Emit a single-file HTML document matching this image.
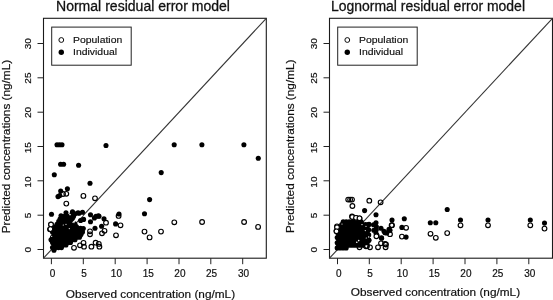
<!DOCTYPE html>
<html><head><meta charset="utf-8"><style>
html,body{margin:0;padding:0;background:#fff;}
svg{display:block;will-change:transform;}
text{font-family:"Liberation Sans", sans-serif;fill:#111;stroke:#111;stroke-width:0.2px;}
</style></head><body>
<svg width="553" height="300" viewBox="0 0 553 300">
<rect x="43.5" y="18.3" width="222.8" height="239.89999999999998" fill="none" stroke="#1a1a1a" stroke-width="1.1"/>
<line x1="43.5" y1="258.2" x2="266.3" y2="18.3" stroke="#333" stroke-width="1.1"/>
<line x1="37.5" y1="249.5" x2="43.5" y2="249.5" stroke="#222" stroke-width="1"/>
<text x="0" y="0" transform="translate(31.2,249.8) rotate(-90) scale(1,0.96)" text-anchor="middle" font-size="10">0</text>
<line x1="37.5" y1="215.2" x2="43.5" y2="215.2" stroke="#222" stroke-width="1"/>
<text x="0" y="0" transform="translate(31.2,215.5) rotate(-90) scale(1,0.96)" text-anchor="middle" font-size="10">5</text>
<line x1="37.5" y1="180.8" x2="43.5" y2="180.8" stroke="#222" stroke-width="1"/>
<text x="0" y="0" transform="translate(31.2,182.1) rotate(-90) scale(1,0.96)" text-anchor="middle" font-size="10">10</text>
<line x1="37.5" y1="146.5" x2="43.5" y2="146.5" stroke="#222" stroke-width="1"/>
<text x="0" y="0" transform="translate(31.2,147.8) rotate(-90) scale(1,0.96)" text-anchor="middle" font-size="10">15</text>
<line x1="37.5" y1="112.2" x2="43.5" y2="112.2" stroke="#222" stroke-width="1"/>
<text x="0" y="0" transform="translate(31.2,112.5) rotate(-90) scale(1,0.96)" text-anchor="middle" font-size="10">20</text>
<line x1="37.5" y1="77.8" x2="43.5" y2="77.8" stroke="#222" stroke-width="1"/>
<text x="0" y="0" transform="translate(31.2,78.1) rotate(-90) scale(1,0.96)" text-anchor="middle" font-size="10">25</text>
<line x1="37.5" y1="43.5" x2="43.5" y2="43.5" stroke="#222" stroke-width="1"/>
<text x="0" y="0" transform="translate(31.2,43.8) rotate(-90) scale(1,0.96)" text-anchor="middle" font-size="10">30</text>
<line x1="51.4" y1="258.2" x2="51.4" y2="264.2" stroke="#222" stroke-width="1"/>
<text x="52.6" y="276.7" text-anchor="middle" font-size="10">0</text>
<line x1="83.3" y1="258.2" x2="83.3" y2="264.2" stroke="#222" stroke-width="1"/>
<text x="84.15" y="276.7" text-anchor="middle" font-size="10">5</text>
<line x1="115.2" y1="258.2" x2="115.2" y2="264.2" stroke="#222" stroke-width="1"/>
<text x="116.4" y="276.7" text-anchor="middle" font-size="10">10</text>
<line x1="147.1" y1="258.2" x2="147.1" y2="264.2" stroke="#222" stroke-width="1"/>
<text x="148.2" y="276.7" text-anchor="middle" font-size="10">15</text>
<line x1="179.0" y1="258.2" x2="179.0" y2="264.2" stroke="#222" stroke-width="1"/>
<text x="179.9" y="276.7" text-anchor="middle" font-size="10">20</text>
<line x1="210.8" y1="258.2" x2="210.8" y2="264.2" stroke="#222" stroke-width="1"/>
<text x="211.6" y="276.7" text-anchor="middle" font-size="10">25</text>
<line x1="242.7" y1="258.2" x2="242.7" y2="264.2" stroke="#222" stroke-width="1"/>
<text x="243.6" y="276.7" text-anchor="middle" font-size="10">30</text>
<text x="56" y="10.8" font-size="14" style="stroke-width:0.28px" textLength="174" lengthAdjust="spacingAndGlyphs">Normal residual error model</text>
<text x="65.8" y="297.8" font-size="11.7" textLength="169.3" lengthAdjust="spacingAndGlyphs">Observed concentration (ng/mL)</text>
<text x="0" y="0" transform="translate(10.3,146.6) rotate(-90)" text-anchor="middle" font-size="11.7" textLength="173.5" lengthAdjust="spacingAndGlyphs">Predicted concentrations (ng/mL)</text>
<rect x="51.7" y="27.1" width="79.5" height="38.1" fill="none" stroke="#222" stroke-width="1"/>
<circle cx="61.300000000000004" cy="40" r="2.4" fill="none" stroke="#000" stroke-width="0.95"/>
<circle cx="61.300000000000004" cy="52.3" r="2.7" fill="#000"/>
<text x="0" y="0" transform="translate(73.1,42.8) scale(1,0.96)" font-size="10.4" style="stroke-width:0.18px">Population</text>
<text x="0" y="0" transform="translate(73.1,55.4) scale(1,0.96)" font-size="10.4" style="stroke-width:0.18px">Individual</text>
<g fill="#000"><circle cx="72.0" cy="213.8" r="2.55"/><circle cx="75.0" cy="213.8" r="2.55"/><circle cx="64.5" cy="216.4" r="2.55"/><circle cx="67.5" cy="216.4" r="2.55"/><circle cx="70.5" cy="216.4" r="2.55"/><circle cx="73.5" cy="216.4" r="2.55"/><circle cx="60.0" cy="219.0" r="2.55"/><circle cx="63.0" cy="219.0" r="2.55"/><circle cx="66.0" cy="219.0" r="2.55"/><circle cx="69.0" cy="219.0" r="2.55"/><circle cx="72.0" cy="219.0" r="2.55"/><circle cx="58.5" cy="221.6" r="2.55"/><circle cx="61.5" cy="221.6" r="2.55"/><circle cx="64.5" cy="221.6" r="2.55"/><circle cx="67.5" cy="221.6" r="2.55"/><circle cx="70.5" cy="221.6" r="2.55"/><circle cx="73.5" cy="221.6" r="2.55"/><circle cx="57.0" cy="224.2" r="2.55"/><circle cx="60.0" cy="224.2" r="2.55"/><circle cx="63.0" cy="224.2" r="2.55"/><circle cx="66.0" cy="224.2" r="2.55"/><circle cx="69.0" cy="224.2" r="2.55"/><circle cx="72.0" cy="224.2" r="2.55"/><circle cx="75.0" cy="224.2" r="2.55"/><circle cx="55.5" cy="226.8" r="2.55"/><circle cx="58.5" cy="226.8" r="2.55"/><circle cx="61.5" cy="226.8" r="2.55"/><circle cx="64.5" cy="226.8" r="2.55"/><circle cx="67.5" cy="226.8" r="2.55"/><circle cx="70.5" cy="226.8" r="2.55"/><circle cx="73.5" cy="226.8" r="2.55"/><circle cx="76.5" cy="226.8" r="2.55"/><circle cx="54.0" cy="229.4" r="2.55"/><circle cx="57.0" cy="229.4" r="2.55"/><circle cx="60.0" cy="229.4" r="2.55"/><circle cx="63.0" cy="229.4" r="2.55"/><circle cx="66.0" cy="229.4" r="2.55"/><circle cx="69.0" cy="229.4" r="2.55"/><circle cx="72.0" cy="229.4" r="2.55"/><circle cx="75.0" cy="229.4" r="2.55"/><circle cx="78.0" cy="229.4" r="2.55"/><circle cx="81.0" cy="229.4" r="2.55"/><circle cx="52.5" cy="232.0" r="2.55"/><circle cx="55.5" cy="232.0" r="2.55"/><circle cx="58.5" cy="232.0" r="2.55"/><circle cx="61.5" cy="232.0" r="2.55"/><circle cx="64.5" cy="232.0" r="2.55"/><circle cx="67.5" cy="232.0" r="2.55"/><circle cx="70.5" cy="232.0" r="2.55"/><circle cx="73.5" cy="232.0" r="2.55"/><circle cx="76.5" cy="232.0" r="2.55"/><circle cx="79.5" cy="232.0" r="2.55"/><circle cx="82.5" cy="232.0" r="2.55"/><circle cx="54.0" cy="234.6" r="2.55"/><circle cx="57.0" cy="234.6" r="2.55"/><circle cx="60.0" cy="234.6" r="2.55"/><circle cx="63.0" cy="234.6" r="2.55"/><circle cx="66.0" cy="234.6" r="2.55"/><circle cx="69.0" cy="234.6" r="2.55"/><circle cx="72.0" cy="234.6" r="2.55"/><circle cx="75.0" cy="234.6" r="2.55"/><circle cx="78.0" cy="234.6" r="2.55"/><circle cx="81.0" cy="234.6" r="2.55"/><circle cx="52.5" cy="237.2" r="2.55"/><circle cx="55.5" cy="237.2" r="2.55"/><circle cx="58.5" cy="237.2" r="2.55"/><circle cx="61.5" cy="237.2" r="2.55"/><circle cx="64.5" cy="237.2" r="2.55"/><circle cx="67.5" cy="237.2" r="2.55"/><circle cx="70.5" cy="237.2" r="2.55"/><circle cx="73.5" cy="237.2" r="2.55"/><circle cx="76.5" cy="237.2" r="2.55"/><circle cx="79.5" cy="237.2" r="2.55"/><circle cx="51" cy="239.8" r="2.55"/><circle cx="54.0" cy="239.8" r="2.55"/><circle cx="57.0" cy="239.8" r="2.55"/><circle cx="60.0" cy="239.8" r="2.55"/><circle cx="63.0" cy="239.8" r="2.55"/><circle cx="66.0" cy="239.8" r="2.55"/><circle cx="69.0" cy="239.8" r="2.55"/><circle cx="72.0" cy="239.8" r="2.55"/><circle cx="75.0" cy="239.8" r="2.55"/><circle cx="52.5" cy="242.4" r="2.55"/><circle cx="55.5" cy="242.4" r="2.55"/><circle cx="58.5" cy="242.4" r="2.55"/><circle cx="61.5" cy="242.4" r="2.55"/><circle cx="64.5" cy="242.4" r="2.55"/><circle cx="67.5" cy="242.4" r="2.55"/><circle cx="70.5" cy="242.4" r="2.55"/><circle cx="54.0" cy="245.0" r="2.55"/><circle cx="57.0" cy="245.0" r="2.55"/><circle cx="60.0" cy="245.0" r="2.55"/><circle cx="63.0" cy="245.0" r="2.55"/><circle cx="66.0" cy="245.0" r="2.55"/><circle cx="52.5" cy="247.6" r="2.55"/><circle cx="55.5" cy="247.6" r="2.55"/><circle cx="58.5" cy="247.6" r="2.55"/><circle cx="61.5" cy="247.6" r="2.55"/><circle cx="54.0" cy="250.2" r="2.55"/></g>
<g fill="#fff"><polygon points="72.3,222.9 76.5,220.9 83,215.60000000000002 82.2,214.8 75.5,219.10000000000002 72.5,221.9"/><circle cx="55.7" cy="221.0" r="0.7"/><circle cx="51.7" cy="236.3" r="0.6"/><circle cx="70" cy="214.60000000000002" r="0.8"/><circle cx="63.3" cy="225.0" r="0.6"/><circle cx="66" cy="224.3" r="0.6"/><circle cx="69.3" cy="228.60000000000002" r="0.6"/><circle cx="74" cy="222.60000000000002" r="0.6"/></g>
<g fill="#000"><circle cx="57" cy="144.7" r="2.55"/><circle cx="59.5" cy="144.7" r="2.55"/><circle cx="62" cy="144.7" r="2.55"/><circle cx="106" cy="145.5" r="2.55"/><circle cx="60.6" cy="164.3" r="2.55"/><circle cx="63.6" cy="164.3" r="2.55"/><circle cx="78.6" cy="165.3" r="2.55"/><circle cx="54.3" cy="174.7" r="2.55"/><circle cx="90" cy="183.3" r="2.55"/><circle cx="60.7" cy="191.0" r="2.55"/><circle cx="67.4" cy="188.7" r="2.55"/><circle cx="58" cy="196.6" r="2.55"/><circle cx="59.7" cy="195.6" r="2.55"/><circle cx="174.2" cy="144.7" r="2.55"/><circle cx="201.9" cy="144.7" r="2.55"/><circle cx="243.9" cy="144.7" r="2.55"/><circle cx="258.3" cy="158.2" r="2.55"/><circle cx="161.2" cy="172.6" r="2.55"/><circle cx="149.6" cy="199.6" r="2.55"/><circle cx="144.5" cy="213.8" r="2.55"/><circle cx="119" cy="214.0" r="2.55"/><circle cx="51.5" cy="214.3" r="2.55"/><circle cx="61" cy="215.8" r="2.55"/><circle cx="66" cy="212.8" r="2.55"/><circle cx="72.5" cy="211.8" r="2.55"/><circle cx="78" cy="212.8" r="2.55"/><circle cx="82.5" cy="212.3" r="2.55"/><circle cx="90.5" cy="214.7" r="2.55"/><circle cx="94.4" cy="217.9" r="2.55"/><circle cx="98.4" cy="215.9" r="2.55"/><circle cx="104" cy="218.7" r="2.55"/><circle cx="90.5" cy="221.8" r="2.55"/><circle cx="95" cy="228.3" r="2.55"/><circle cx="101.6" cy="226.3" r="2.55"/><circle cx="115.6" cy="223.9" r="2.55"/><circle cx="83.6" cy="219.4" r="2.55"/><circle cx="80.6" cy="220.5" r="2.55"/><circle cx="96" cy="216.3" r="2.55"/><circle cx="99" cy="216.3" r="2.55"/><circle cx="79" cy="213.3" r="2.55"/><circle cx="77.5" cy="228.5" r="2.55"/><circle cx="80.5" cy="228.3" r="2.55"/><circle cx="83.3" cy="228.6" r="2.55"/></g>
<g fill="none" stroke="#000" stroke-width="1.15"><circle cx="63" cy="194.0" r="2.35"/><circle cx="66.3" cy="193.8" r="2.35"/><circle cx="66.3" cy="203.6" r="2.35"/><circle cx="83.4" cy="195.9" r="2.35"/><circle cx="95" cy="198.3" r="2.35"/><circle cx="120.5" cy="225.3" r="2.35"/><circle cx="144.5" cy="231.6" r="2.35"/><circle cx="149.6" cy="237.4" r="2.35"/><circle cx="161" cy="231.6" r="2.35"/><circle cx="174.3" cy="222.3" r="2.35"/><circle cx="202.1" cy="222.0" r="2.35"/><circle cx="244.1" cy="222.0" r="2.35"/><circle cx="258.1" cy="226.9" r="2.35"/><circle cx="106" cy="222.7" r="2.35"/><circle cx="118.6" cy="215.9" r="2.35"/><circle cx="116" cy="235.3" r="2.35"/><circle cx="90" cy="231.3" r="2.35"/><circle cx="90" cy="234.3" r="2.35"/><circle cx="102" cy="233.3" r="2.35"/><circle cx="104.5" cy="230.8" r="2.35"/><circle cx="83.5" cy="242.8" r="2.35"/><circle cx="84" cy="246.7" r="2.35"/><circle cx="91.4" cy="246.7" r="2.35"/><circle cx="95.6" cy="242.7" r="2.35"/><circle cx="98.8" cy="243.9" r="2.35"/><circle cx="99.4" cy="246.7" r="2.35"/><circle cx="74" cy="247.8" r="2.35"/><circle cx="80" cy="245.3" r="2.35"/><circle cx="51" cy="224.3" r="2.35"/><circle cx="50" cy="229.3" r="2.35"/></g>
<g fill="#fff" stroke="#000" stroke-width="1.15"><circle cx="51" cy="224.6" r="2.35"/><circle cx="50.4" cy="229.1" r="2.35"/></g>
<rect x="329.5" y="18.3" width="223.0" height="239.89999999999998" fill="none" stroke="#1a1a1a" stroke-width="1.1"/>
<line x1="329.5" y1="258.2" x2="552.5" y2="18.3" stroke="#333" stroke-width="1.1"/>
<line x1="323.5" y1="249.5" x2="329.5" y2="249.5" stroke="#222" stroke-width="1"/>
<text x="0" y="0" transform="translate(317.2,249.8) rotate(-90) scale(1,0.96)" text-anchor="middle" font-size="10">0</text>
<line x1="323.5" y1="215.2" x2="329.5" y2="215.2" stroke="#222" stroke-width="1"/>
<text x="0" y="0" transform="translate(317.2,215.5) rotate(-90) scale(1,0.96)" text-anchor="middle" font-size="10">5</text>
<line x1="323.5" y1="180.8" x2="329.5" y2="180.8" stroke="#222" stroke-width="1"/>
<text x="0" y="0" transform="translate(317.2,182.1) rotate(-90) scale(1,0.96)" text-anchor="middle" font-size="10">10</text>
<line x1="323.5" y1="146.5" x2="329.5" y2="146.5" stroke="#222" stroke-width="1"/>
<text x="0" y="0" transform="translate(317.2,147.8) rotate(-90) scale(1,0.96)" text-anchor="middle" font-size="10">15</text>
<line x1="323.5" y1="112.2" x2="329.5" y2="112.2" stroke="#222" stroke-width="1"/>
<text x="0" y="0" transform="translate(317.2,112.5) rotate(-90) scale(1,0.96)" text-anchor="middle" font-size="10">20</text>
<line x1="323.5" y1="77.8" x2="329.5" y2="77.8" stroke="#222" stroke-width="1"/>
<text x="0" y="0" transform="translate(317.2,78.1) rotate(-90) scale(1,0.96)" text-anchor="middle" font-size="10">25</text>
<line x1="323.5" y1="43.5" x2="329.5" y2="43.5" stroke="#222" stroke-width="1"/>
<text x="0" y="0" transform="translate(317.2,43.8) rotate(-90) scale(1,0.96)" text-anchor="middle" font-size="10">30</text>
<line x1="337.5" y1="258.2" x2="337.5" y2="264.2" stroke="#222" stroke-width="1"/>
<text x="338.7" y="276.7" text-anchor="middle" font-size="10">0</text>
<line x1="369.3" y1="258.2" x2="369.3" y2="264.2" stroke="#222" stroke-width="1"/>
<text x="370.15" y="276.7" text-anchor="middle" font-size="10">5</text>
<line x1="401.2" y1="258.2" x2="401.2" y2="264.2" stroke="#222" stroke-width="1"/>
<text x="402.4" y="276.7" text-anchor="middle" font-size="10">10</text>
<line x1="433.1" y1="258.2" x2="433.1" y2="264.2" stroke="#222" stroke-width="1"/>
<text x="434.2" y="276.7" text-anchor="middle" font-size="10">15</text>
<line x1="465.0" y1="258.2" x2="465.0" y2="264.2" stroke="#222" stroke-width="1"/>
<text x="465.9" y="276.7" text-anchor="middle" font-size="10">20</text>
<line x1="496.9" y1="258.2" x2="496.9" y2="264.2" stroke="#222" stroke-width="1"/>
<text x="497.7" y="276.7" text-anchor="middle" font-size="10">25</text>
<line x1="528.8" y1="258.2" x2="528.8" y2="264.2" stroke="#222" stroke-width="1"/>
<text x="529.7" y="276.7" text-anchor="middle" font-size="10">30</text>
<text x="331" y="10.8" font-size="14" style="stroke-width:0.28px" textLength="194" lengthAdjust="spacingAndGlyphs">Lognormal residual error model</text>
<text x="350.8" y="295.7" font-size="11.7" textLength="169.3" lengthAdjust="spacingAndGlyphs">Observed concentration (ng/mL)</text>
<text x="0" y="0" transform="translate(294.1,146.3) rotate(-90)" text-anchor="middle" font-size="11.7" textLength="173.5" lengthAdjust="spacingAndGlyphs">Predicted concentrations (ng/mL)</text>
<rect x="337.7" y="27.1" width="79.5" height="38.1" fill="none" stroke="#222" stroke-width="1"/>
<circle cx="347.3" cy="40" r="2.4" fill="none" stroke="#000" stroke-width="0.95"/>
<circle cx="347.3" cy="52.3" r="2.7" fill="#000"/>
<text x="0" y="0" transform="translate(359.09999999999997,42.8) scale(1,0.96)" font-size="10.4" style="stroke-width:0.18px">Population</text>
<text x="0" y="0" transform="translate(359.09999999999997,55.4) scale(1,0.96)" font-size="10.4" style="stroke-width:0.18px">Individual</text>
<g fill="#000"><circle cx="343.2" cy="221.9" r="2.55"/><circle cx="346.2" cy="221.9" r="2.55"/><circle cx="349.2" cy="221.9" r="2.55"/><circle cx="352.2" cy="221.9" r="2.55"/><circle cx="355.2" cy="221.9" r="2.55"/><circle cx="358.2" cy="221.9" r="2.55"/><circle cx="361.2" cy="221.9" r="2.55"/><circle cx="341.7" cy="224.5" r="2.55"/><circle cx="344.7" cy="224.5" r="2.55"/><circle cx="347.7" cy="224.5" r="2.55"/><circle cx="350.7" cy="224.5" r="2.55"/><circle cx="353.7" cy="224.5" r="2.55"/><circle cx="356.7" cy="224.5" r="2.55"/><circle cx="359.7" cy="224.5" r="2.55"/><circle cx="362.7" cy="224.5" r="2.55"/><circle cx="365.7" cy="224.5" r="2.55"/><circle cx="368.7" cy="224.5" r="2.55"/><circle cx="340.2" cy="227.1" r="2.55"/><circle cx="343.2" cy="227.1" r="2.55"/><circle cx="346.2" cy="227.1" r="2.55"/><circle cx="349.2" cy="227.1" r="2.55"/><circle cx="352.2" cy="227.1" r="2.55"/><circle cx="355.2" cy="227.1" r="2.55"/><circle cx="358.2" cy="227.1" r="2.55"/><circle cx="361.2" cy="227.1" r="2.55"/><circle cx="364.2" cy="227.1" r="2.55"/><circle cx="367.2" cy="227.1" r="2.55"/><circle cx="338.7" cy="229.7" r="2.55"/><circle cx="341.7" cy="229.7" r="2.55"/><circle cx="344.7" cy="229.7" r="2.55"/><circle cx="347.7" cy="229.7" r="2.55"/><circle cx="350.7" cy="229.7" r="2.55"/><circle cx="353.7" cy="229.7" r="2.55"/><circle cx="356.7" cy="229.7" r="2.55"/><circle cx="359.7" cy="229.7" r="2.55"/><circle cx="362.7" cy="229.7" r="2.55"/><circle cx="365.7" cy="229.7" r="2.55"/><circle cx="368.7" cy="229.7" r="2.55"/><circle cx="337.2" cy="232.3" r="2.55"/><circle cx="340.2" cy="232.3" r="2.55"/><circle cx="343.2" cy="232.3" r="2.55"/><circle cx="346.2" cy="232.3" r="2.55"/><circle cx="349.2" cy="232.3" r="2.55"/><circle cx="352.2" cy="232.3" r="2.55"/><circle cx="355.2" cy="232.3" r="2.55"/><circle cx="358.2" cy="232.3" r="2.55"/><circle cx="361.2" cy="232.3" r="2.55"/><circle cx="364.2" cy="232.3" r="2.55"/><circle cx="367.2" cy="232.3" r="2.55"/><circle cx="338.7" cy="234.9" r="2.55"/><circle cx="341.7" cy="234.9" r="2.55"/><circle cx="344.7" cy="234.9" r="2.55"/><circle cx="347.7" cy="234.9" r="2.55"/><circle cx="350.7" cy="234.9" r="2.55"/><circle cx="353.7" cy="234.9" r="2.55"/><circle cx="356.7" cy="234.9" r="2.55"/><circle cx="359.7" cy="234.9" r="2.55"/><circle cx="362.7" cy="234.9" r="2.55"/><circle cx="365.7" cy="234.9" r="2.55"/><circle cx="368.7" cy="234.9" r="2.55"/><circle cx="337.2" cy="237.5" r="2.55"/><circle cx="340.2" cy="237.5" r="2.55"/><circle cx="343.2" cy="237.5" r="2.55"/><circle cx="346.2" cy="237.5" r="2.55"/><circle cx="349.2" cy="237.5" r="2.55"/><circle cx="352.2" cy="237.5" r="2.55"/><circle cx="355.2" cy="237.5" r="2.55"/><circle cx="358.2" cy="237.5" r="2.55"/><circle cx="361.2" cy="237.5" r="2.55"/><circle cx="364.2" cy="237.5" r="2.55"/><circle cx="367.2" cy="237.5" r="2.55"/><circle cx="338.7" cy="240.1" r="2.55"/><circle cx="341.7" cy="240.1" r="2.55"/><circle cx="344.7" cy="240.1" r="2.55"/><circle cx="347.7" cy="240.1" r="2.55"/><circle cx="350.7" cy="240.1" r="2.55"/><circle cx="353.7" cy="240.1" r="2.55"/><circle cx="356.7" cy="240.1" r="2.55"/><circle cx="359.7" cy="240.1" r="2.55"/><circle cx="362.7" cy="240.1" r="2.55"/><circle cx="365.7" cy="240.1" r="2.55"/><circle cx="368.7" cy="240.1" r="2.55"/><circle cx="337.2" cy="242.7" r="2.55"/><circle cx="340.2" cy="242.7" r="2.55"/><circle cx="343.2" cy="242.7" r="2.55"/><circle cx="346.2" cy="242.7" r="2.55"/><circle cx="349.2" cy="242.7" r="2.55"/><circle cx="352.2" cy="242.7" r="2.55"/><circle cx="355.2" cy="242.7" r="2.55"/><circle cx="358.2" cy="242.7" r="2.55"/><circle cx="361.2" cy="242.7" r="2.55"/><circle cx="364.2" cy="242.7" r="2.55"/><circle cx="367.2" cy="242.7" r="2.55"/><circle cx="338.7" cy="245.3" r="2.55"/><circle cx="341.7" cy="245.3" r="2.55"/><circle cx="344.7" cy="245.3" r="2.55"/><circle cx="347.7" cy="245.3" r="2.55"/><circle cx="350.7" cy="245.3" r="2.55"/><circle cx="353.7" cy="245.3" r="2.55"/><circle cx="356.7" cy="245.3" r="2.55"/><circle cx="359.7" cy="245.3" r="2.55"/><circle cx="362.7" cy="245.3" r="2.55"/><circle cx="337.2" cy="247.9" r="2.55"/><circle cx="340.2" cy="247.9" r="2.55"/><circle cx="343.2" cy="247.9" r="2.55"/><circle cx="346.2" cy="247.9" r="2.55"/></g>
<g fill="#fff"><circle cx="342" cy="224.0" r="0.6"/><circle cx="362" cy="224.60000000000002" r="0.7"/><circle cx="366" cy="226.3" r="0.6"/><circle cx="365.3" cy="230.60000000000002" r="0.6"/><circle cx="368.7" cy="237.0" r="0.7"/><circle cx="366.3" cy="238.0" r="0.6"/><circle cx="358.7" cy="240.60000000000002" r="0.8"/><circle cx="356.8" cy="242.3" r="0.8"/></g>
<g fill="#000"><circle cx="364.6" cy="210.6" r="2.55"/><circle cx="376" cy="214.8" r="2.55"/><circle cx="392" cy="220.1" r="2.55"/><circle cx="404.3" cy="218.8" r="2.55"/><circle cx="369" cy="224.3" r="2.55"/><circle cx="376" cy="222.8" r="2.55"/><circle cx="376.4" cy="226.8" r="2.55"/><circle cx="381" cy="228.3" r="2.55"/><circle cx="384" cy="231.3" r="2.55"/><circle cx="385" cy="232.7" r="2.55"/><circle cx="389" cy="229.3" r="2.55"/><circle cx="390" cy="230.2" r="2.55"/><circle cx="386.8" cy="232.9" r="2.55"/><circle cx="401.9" cy="227.4" r="2.55"/><circle cx="406.1" cy="237.1" r="2.55"/><circle cx="430.3" cy="222.8" r="2.55"/><circle cx="435.8" cy="222.8" r="2.55"/><circle cx="447.2" cy="209.5" r="2.55"/><circle cx="460.5" cy="220.0" r="2.55"/><circle cx="488" cy="220.0" r="2.55"/><circle cx="530.3" cy="220.0" r="2.55"/><circle cx="544.5" cy="223.1" r="2.55"/><circle cx="376" cy="233.3" r="2.55"/><circle cx="377" cy="235.3" r="2.55"/><circle cx="381.6" cy="238.3" r="2.55"/><circle cx="381.5" cy="237.8" r="2.55"/><circle cx="369" cy="240.3" r="2.55"/><circle cx="373.5" cy="224.8" r="2.55"/><circle cx="373.8" cy="230.3" r="2.55"/><circle cx="376.3" cy="229.8" r="2.55"/></g>
<g fill="none" stroke="#000" stroke-width="1.15"><circle cx="348.2" cy="199.6" r="2.35"/><circle cx="350.1" cy="199.6" r="2.35"/><circle cx="352.0" cy="199.6" r="2.35"/><circle cx="352.4" cy="206.0" r="2.35"/><circle cx="369.3" cy="200.7" r="2.35"/><circle cx="380.6" cy="202.3" r="2.35"/><circle cx="352" cy="216.3" r="2.35"/><circle cx="356" cy="217.8" r="2.35"/><circle cx="359.5" cy="218.3" r="2.35"/><circle cx="337" cy="226.3" r="2.35"/><circle cx="336.5" cy="230.8" r="2.35"/><circle cx="392" cy="225.2" r="2.35"/><circle cx="391.6" cy="225.3" r="2.35"/><circle cx="390" cy="234.2" r="2.35"/><circle cx="386" cy="244.5" r="2.35"/><circle cx="406.1" cy="227.8" r="2.35"/><circle cx="401.9" cy="236.6" r="2.35"/><circle cx="430.5" cy="233.8" r="2.35"/><circle cx="435.8" cy="237.8" r="2.35"/><circle cx="447.2" cy="233.1" r="2.35"/><circle cx="460.5" cy="225.3" r="2.35"/><circle cx="488" cy="225.3" r="2.35"/><circle cx="530.3" cy="225.3" r="2.35"/><circle cx="544.5" cy="228.6" r="2.35"/><circle cx="381" cy="243.3" r="2.35"/><circle cx="385" cy="243.9" r="2.35"/><circle cx="385.6" cy="247.3" r="2.35"/><circle cx="378" cy="247.3" r="2.35"/><circle cx="370" cy="247.3" r="2.35"/><circle cx="367" cy="245.9" r="2.35"/><circle cx="366" cy="246.3" r="2.35"/><circle cx="359.5" cy="247.3" r="2.35"/></g>
<g fill="#fff" stroke="#000" stroke-width="1.15"><circle cx="337" cy="227.3" r="2.35"/><circle cx="336.5" cy="231.3" r="2.35"/><circle cx="352.3" cy="217.0" r="2.35"/><circle cx="356" cy="217.8" r="2.35"/><circle cx="359.5" cy="218.3" r="2.35"/><circle cx="376.4" cy="236.3" r="2.35"/></g>
</svg>
</body></html>
